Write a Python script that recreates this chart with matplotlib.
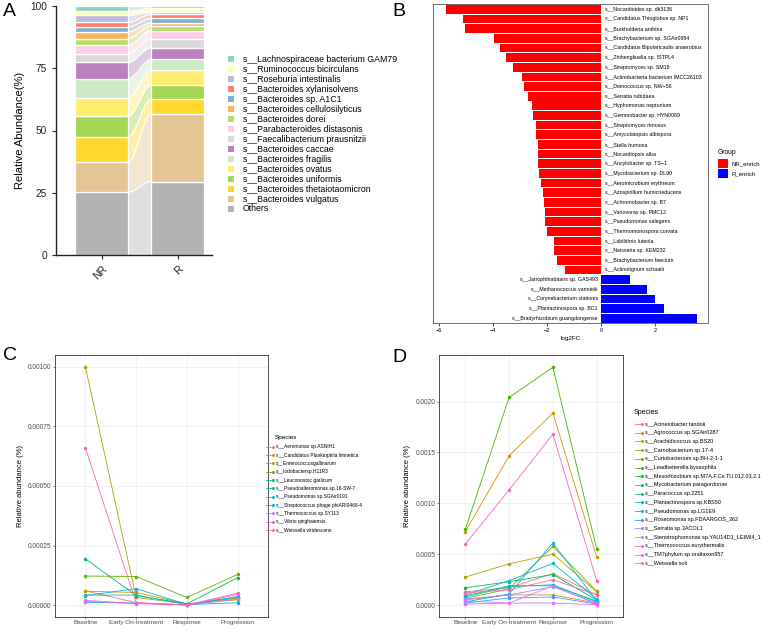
import numpy as np
import matplotlib
matplotlib.use("Agg")
import matplotlib.pyplot as plt
from matplotlib.patches import Rectangle
from matplotlib.lines import Line2D

plt.rcParams['font.family'] = ['Liberation Sans', 'DejaVu Sans']

# ---------------- DATA ----------------
# Panel A (stacking order bottom -> top)
species_A = ["Others", "s__Bacteroides vulgatus", "s__Bacteroides thetaiotaomicron",
             "s__Bacteroides uniformis", "s__Bacteroides ovatus", "s__Bacteroides fragilis",
             "s__Bacteroides caccae", "s__Faecalibacterium prausnitzii",
             "s__Parabacteroides distasonis", "s__Bacteroides dorei",
             "s__Bacteroides cellulosilyticus", "s__Bacteroides sp. A1C1",
             "s__Bacteroides xylanisolvens", "s__Roseburia intestinalis",
             "s__Ruminococcus bicirculans", "s__Lachnospiraceae bacterium GAM79"]
groups_A = ["NR", "R"]
abund_NR = [25.2, 12.3, 10.0, 8.3, 7.3, 7.7, 6.6, 3.3, 3.6, 2.6, 2.7, 2.0, 1.8, 2.9, 1.7, 2.0]
abund_R = [29.5, 27.0, 6.0, 5.8, 5.9, 4.4, 4.7, 3.4, 3.4, 2.0, 1.1, 1.8, 1.6, 0.9, 1.5, 1.0]
colors_A = ["#B3B3B3", "#E5C494", "#FFD92F", "#A6D854", "#FFED6F", "#CCEBC5", "#BC80BD",
            "#D9D9D9", "#FCCDE5", "#B3DE69", "#FDB462", "#80B1D3", "#FB8072", "#BEBADA",
            "#FFFFB3", "#8DD3C7"]

# Panel B
species_B = ["s__Nocardioides sp. dk3136", "s__Candidatus Thioglobus sp. NP1",
             "s__Burkholderia anthina", "s__Brachybacterium sp. SGAir0954",
             "s__Candidatus Bipolaricaulis anaerobius", "s__Zhihengliuella sp. ISTPL4",
             "s__Streptomyces sp. SM18", "s__Actinobacteria bacterium IMCC26103",
             "s__Deinococcus sp. NW\u221256", "s__Serratia rubidaea", "s__Hyphomonas neptunium",
             "s__Gemmobacter sp. HYN0069", "s__Streptomyces rimosus",
             "s__Amycolatopsis albispora", "s__Stella humosa", "s__Nocardiopsis alba",
             "s__Ancylobacter sp. TS\u22121", "s__Mycobacterium sp. DL90",
             "s__Aeromicrobium erythreum", "s__Azospirillum humicireducens",
             "s__Achromobacter sp. B7", "s__Variovorax sp. PMC12", "s__Pseudomonas salegens",
             "s__Thermomonospora curvata", "s__Labilithrix luteola", "s__Neisseria sp. KEM232",
             "s__Brachybacterium faecium", "s__Actinotignum schaalii",
             "s__Jatrophihabitans sp. GAS493", "s__Methanococcus vannielii",
             "s__Corynebacterium stationis", "s__Plantactinospora sp. BC1",
             "s__Bradyrhizobium guangdongense"]
log2fc_B = [-5.74, -5.11, -5.04, -3.95, -3.74, -3.51, -3.25, -2.93, -2.85, -2.70, -2.56,
            -2.51, -2.42, -2.40, -2.35, -2.33, -2.32, -2.31, -2.21, -2.15, -2.11, -2.07,
            -2.06, -2.01, -1.75, -1.75, -1.62, -1.35, 1.07, 1.70, 2.01, 2.33, 3.55]
group_B = ["NR_enrich"] * 28 + ["R_enrich"] * 5

# Panel C
timepoints = ["Baseline", "Early On-treatment", "Response", "Progression"]
species_C = ["s__Aeromonas sp.ASNIH1", "s__Candidatus Planktophila limnetica",
             "s__Enterococcusgallinarum", "s__Iodobactersp.H11R3", "s__Leuconostoc garlicum",
             "s__Pseudoalteromonas sp.16-SW-7", "s__Pseudomonas sp.SGAir0191",
             "s__Streptococcus phage phiARI0468-4", "s__Thermococcus sp.SY113",
             "s__Vibrio qinghaiensis", "s__Weissella viridescens"]
abund_C = [
    [0.000060, 0.000010, 0.000000, 0.000030],
    [0.000058, 0.000053, 0.000005, 0.000028],
    [0.001000, 0.000032, 0.000005, 0.000022],
    [0.000122, 0.000120, 0.000032, 0.000129],
    [0.000194, 0.000040, 0.000005, 0.000115],
    [0.000042, 0.000042, 0.000002, 0.000035],
    [0.000040, 0.000069, 0.000003, 0.000035],
    [0.000012, 0.000008, 0.000002, 0.000010],
    [0.000015, 0.000008, 0.000001, 0.000025],
    [0.000020, 0.000006, 0.000001, 0.000050],
    [0.000660, 0.000010, 0.000000, 0.000045],
]

# Panel D
species_D = ["s__Acinetobacter tandoii", "s__Agrococcus sp.SGAir0287", "s__Arachidicoccus sp.BS20",
             "s__Carnobacterium sp.17-4", "s__Curtobacterium sp.BH-2-1-1",
             "s__Leadbetterella byssophila", "s__Mesorhizobium sp.M7A.F.Ce.TU.012.03.2.1",
             "s__Mycobacterium paragordonae", "s__Paracoccus sp.2251",
             "s__Plantactinospora sp.KBS50", "s__Pseudomonas sp.LG1E9",
             "s__Roseomonas sp.FDAARGOS_362", "s__Serratia sp.3ACOL1",
             "s__Stenotrophomonas sp.YAU14D1_LEIMI4_1", "s__Thermococcus eurythermalis",
             "s__TM7phylum sp.oraltaxon957", "s__Weissella soli"]
abund_D = [
    [0.000130, 0.000170, 0.000310, 0.000100],
    [0.000050, 0.000100, 0.000100, 0.000020],
    [0.000722, 0.001466, 0.001887, 0.000469],
    [0.000275, 0.000405, 0.000500, 0.000130],
    [0.000065, 0.000160, 0.000576, 0.000136],
    [0.000744, 0.002040, 0.002336, 0.000550],
    [0.000170, 0.000230, 0.000300, 0.000050],
    [0.000090, 0.000190, 0.000190, 0.000040],
    [0.000080, 0.000180, 0.000200, 0.000030],
    [0.000100, 0.000240, 0.000410, 0.000060],
    [0.000030, 0.000110, 0.000610, 0.000040],
    [0.000020, 0.000070, 0.000080, 0.000010],
    [0.000060, 0.000100, 0.000180, 0.000020],
    [0.000040, 0.000020, 0.000190, 0.000010],
    [0.000010, 0.000020, 0.000020, 0.000005],
    [0.000600, 0.001130, 0.001680, 0.000240],
    [0.000120, 0.000150, 0.000250, 0.000100],
]


# ---------------- helpers ----------------
def hue_pal(n, h0=15, h1=375, c=100, l=65):
    hues = np.linspace(h0, h1, n + 1)[:-1] % 360
    Xn, Yn, Zn = 95.047, 100.0, 108.883
    un = 4 * Xn / (Xn + 15 * Yn + 3 * Zn)
    vn = 9 * Yn / (Xn + 15 * Yn + 3 * Zn)
    out = []
    for h in hues:
        u = c * np.cos(np.radians(h))
        v = c * np.sin(np.radians(h))
        Y = Yn * ((l + 16) / 116) ** 3
        up = u / (13 * l) + un
        vp = v / (13 * l) + vn
        X = Y * 9 * up / (4 * vp)
        Z = Y * (12 - 3 * up - 20 * vp) / (4 * vp)
        M = np.array([[3.2404542, -1.5371385, -0.4985314],
                      [-0.9692660, 1.8760108, 0.0415560],
                      [0.0556434, -0.2040259, 1.0572252]])
        rgb = M @ (np.array([X, Y, Z]) / 100)
        rgb = np.where(rgb <= 0.0031308, 12.92 * rgb,
                       1.055 * np.power(np.clip(rgb, 0, None), 1 / 2.4) - 0.055)
        out.append(tuple(np.clip(rgb, 0, 1)))
    return out


W, H = 782, 630
fig = plt.figure(figsize=(W / 100, H / 100), dpi=100)


def ax_px(x0, y0, x1, y1):
    return fig.add_axes([x0 / W, 1 - y1 / H, (x1 - x0) / W, (y1 - y0) / H])


def fx(x):
    return x / W


def fy(y):
    return 1 - y / H


# ---------------- Panel A ----------------
axA = ax_px(56, 6, 212, 255)
bw = 0.7
nr = np.array(abund_NR)
rr = np.array(abund_R)
nr_b = np.concatenate([[0], np.cumsum(nr)[:-1]])
rr_b = np.concatenate([[0], np.cumsum(rr)[:-1]])
xx = np.linspace(1 + bw / 2, 2 - bw / 2, 80)
t = (xx - xx[0]) / (xx[-1] - xx[0])
s = t * t * (3 - 2 * t)
for i, col in enumerate(colors_A):
    lo = nr_b[i] + (rr_b[i] - nr_b[i]) * s
    hi = (nr_b[i] + nr[i]) + ((rr_b[i] + rr[i]) - (nr_b[i] + nr[i])) * s
    axA.fill_between(xx, lo, hi, color=col, alpha=0.42, lw=0)
    axA.plot(xx, hi, color='white', lw=0.9)
for i, col in enumerate(colors_A):
    axA.bar(1, nr[i], bottom=nr_b[i], width=bw, color=col, edgecolor='white', linewidth=0.9)
    axA.bar(2, rr[i], bottom=rr_b[i], width=bw, color=col, edgecolor='white', linewidth=0.9)
axA.set_xlim(0.4, 2.45)
axA.set_ylim(0, 100)
axA.spines['top'].set_visible(False)
axA.spines['right'].set_visible(False)
for sp in ['left', 'bottom']:
    axA.spines[sp].set_linewidth(1.0)
    axA.spines[sp].set_color('#222222')
axA.set_yticks([0, 25, 50, 75, 100])
axA.set_yticklabels(["0", "25", "50", "75", "100"], fontsize=7.3)
axA.set_xticks([1, 2])
axA.set_xticklabels(groups_A, fontsize=7.5, rotation=45, ha='right', va='top',
                    rotation_mode='anchor')
axA.tick_params(length=3, width=0.8, colors='#222222')
axA.set_ylabel("Relative Abundance(%)", fontsize=8, labelpad=4)

# legend A (top -> bottom)
for k, idx in enumerate(range(len(species_A) - 1, -1, -1)):
    y = 59 + 10 * k
    fig.add_artist(Rectangle((fx(228), fy(y + 3)), 6 / W, 6 / H, transform=fig.transFigure,
                             facecolor=colors_A[idx], edgecolor='none'))
    fig.text(fx(243), fy(y), species_A[idx], fontsize=6.3, va='center', ha='left')

fig.text(fx(3), fy(11), "A", fontsize=14, va='center', ha='left')

# ---------------- Panel B ----------------
axB = ax_px(433, 4, 708, 323)
nB = len(species_B)
ypos = np.arange(nB)[::-1]
colB = ['#FF0000' if g == "NR_enrich" else '#0000FF' for g in group_B]
axB.barh(ypos, log2fc_B, height=0.9, color=colB)
for yy, v, name in zip(ypos, log2fc_B, species_B):
    if v < 0:
        axB.text(0.15, yy, name, fontsize=3.8, ha='left', va='center')
    else:
        axB.text(-0.12, yy, name, fontsize=3.8, ha='right', va='center')
axB.set_xlim(-6.22, 3.96)
axB.set_ylim(-0.5, 32.55)
axB.set_yticks([])
axB.set_xticks([-6, -4, -2, 0, 2])
axB.set_xticklabels(["\u22126", "\u22124", "\u22122", "0", "2"], fontsize=4)
axB.tick_params(axis='x', length=2, width=0.5, pad=1.5)
for sp in axB.spines.values():
    sp.set_linewidth(0.6)
    sp.set_color('#555555')
axB.set_xlabel("log2FC", fontsize=4.5, labelpad=2)
fig.text(fx(718), fy(152), "Group", fontsize=4.8, va='center', ha='left')
for k, (lab, col) in enumerate([("NR_enrich", '#FF0000'), ("R_enrich", '#0000FF')]):
    y = 163.5 + 10 * k
    fig.add_artist(Rectangle((fx(718), fy(y + 4.5)), 10 / W, 9 / H, transform=fig.transFigure,
                             facecolor=col, edgecolor='none'))
    fig.text(fx(732), fy(y), lab, fontsize=4.3, va='center', ha='left')
fig.text(fx(392), fy(11), "B", fontsize=14, va='center', ha='left')


# ---------------- Panel C & D ----------------
def style_bw(ax, yt, ylabs):
    ax.set_xlim(0.4, 4.6)
    ax.set_xticks([1, 2, 3, 4])
    ax.set_xticklabels(timepoints, fontsize=4.6, color='#4D4D4D')
    ax.set_yticks(yt)
    ax.set_yticklabels(ylabs, fontsize=4.7, color='#4D4D4D')
    ax.set_yticks([(a + b) / 2 for a, b in zip(yt[:-1], yt[1:])], minor=True)
    ax.grid(True, which='major', color='#EBEBEB', lw=0.5)
    ax.grid(True, which='minor', axis='y', color='#F3F3F3', lw=0.3)
    ax.set_axisbelow(True)
    ax.tick_params(which='major', length=1.5, width=0.4, color='#333333', pad=1.0)
    ax.tick_params(which='minor', length=0)
    for sp in ax.spines.values():
        sp.set_linewidth(0.6)
        sp.set_color('#333333')
    ax.set_ylabel("Relative abundance (%)", fontsize=5.5, labelpad=3)


axC = ax_px(55, 355, 268, 617)
colsC = hue_pal(len(species_C))
xpos = np.arange(1, 5)
for i, vals in enumerate(abund_C):
    axC.plot(xpos, vals, color=colsC[i], lw=0.6, marker='o', ms=1.5)
axC.set_ylim(-0.00005, 0.00105)
style_bw(axC, [0, 0.00025, 0.0005, 0.00075, 0.001],
         ["0.00000", "0.00025", "0.00050", "0.00075", "0.00100"])
fig.text(fx(275), fy(437), "Species", fontsize=4.6, va='center', ha='left')
for k, name in enumerate(species_C):
    y = 446.7 + 8.33 * k
    fig.add_artist(Line2D([fx(266), fx(273)], [fy(y), fy(y)], transform=fig.transFigure,
                          color=colsC[k], lw=0.6, marker='o', markevery=[1], ms=1.2))
    fig.text(fx(276), fy(y), name, fontsize=3.5, va='center', ha='left')
fig.text(fx(3), fy(355), "C", fontsize=14, va='center', ha='left')

axD = ax_px(439, 355, 623, 617)
colsD = hue_pal(len(species_D))
for i, vals in enumerate(abund_D):
    axD.plot(xpos, vals, color=colsD[i], lw=0.6, marker='o', ms=1.5)
axD.set_ylim(-0.000117, 0.002457)
style_bw(axD, [0, 0.0005, 0.001, 0.0015, 0.002],
         ["0.0000", "0.0005", "0.0010", "0.0015", "0.0020"])
fig.text(fx(634), fy(413), "Species", fontsize=5, va='center', ha='left')
for k, name in enumerate(species_D):
    y = 424 + 8.7 * k
    fig.add_artist(Line2D([fx(635), fx(642)], [fy(y), fy(y)], transform=fig.transFigure,
                          color=colsD[k], lw=0.6, marker='o', markevery=[1], ms=1.2))
    fig.text(fx(645), fy(y), name, fontsize=4.0, va='center', ha='left')
fig.text(fx(392), fy(357), "D", fontsize=14, va='center', ha='left')

fig.savefig("out.png", dpi=100)
